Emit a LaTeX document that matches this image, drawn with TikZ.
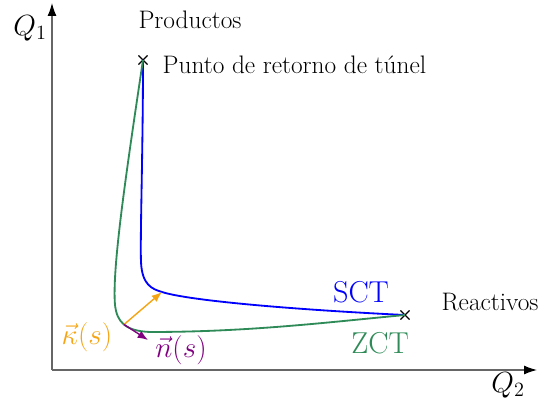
\documentclass[tikz,border=0pt]{standalone}
\usepackage{amsmath,amssymb}
\usepackage{xcolor}
\usepackage{tikz}
\usetikzlibrary{positioning,arrows.meta,shapes.misc}
\definecolor{sctblue}{RGB}{0,0,255}
\definecolor{zctgreen}{RGB}{46,139,87}
\definecolor{kaporange}{RGB}{245,165,20}
\definecolor{normpurple}{RGB}{128,0,128}

\begin{document}
\begin{tikzpicture}[x=0.025cm,y=-0.025cm,
    lbl/.style={font=\fontsize{18}{21}\selectfont,inner sep=1pt},
    biglbl/.style={font=\fontsize{21.5}{25}\selectfont,inner sep=1pt},
    turn/.style={cross out,draw=black,thick,minimum size=0.2cm,inner sep=0pt}]
  \useasboundingbox (0,0) rectangle (544,405);
  % axes
  \coordinate (O) at (52,370);
  \coordinate (ytop) at (52,3);
  \coordinate (xend) at (537,370);
  \draw[black!60,thick,-{Latex[black,length=3.2mm,width=2.2mm]}] (O) -- (ytop);
  \draw[black!60,thick,-{Latex[black,length=3.2mm,width=2.2mm]}] (O) -- (xend);
  \node[biglbl] (q1) at (30,28) {$Q_1$};
  \node[biglbl] (q2) at (508,385) {$Q_2$};
  % end points of the paths
  \node[turn] (tp) at (143,60) {};
  \node[turn] (re) at (405,315) {};
  \coordinate (gk) at (124,324.5);
  \coordinate (bk) at (162,292);
  \coordinate (nk) at (148,340);
  % SCT and ZCT
  \draw[sctblue,line width=1.3pt] (tp.center) .. controls (143,150) and (140,240) .. (141,262)
    .. controls (142,285) and (152,289) .. (bk)
    .. controls (190,301) and (300,310) .. (re.center);
  \draw[zctgreen,line width=1.3pt] (tp.center) .. controls (125,180) and (112,270) .. (115,305)
    .. controls (117,322) and (125,331) .. (150,332)
    .. controls (250,332) and (330,322) .. (re.center);
  \draw[kaporange,line width=1pt,-{Latex[length=2.6mm,width=2mm]}] (gk) -- (bk);
  \draw[normpurple,line width=1pt,-{Latex[length=2.6mm,width=2mm]}] (gk) -- (nk);
  % labels
  \node[lbl] (prod) at (190,20) {Productos};
  \node[lbl,anchor=west] (ptr) at (161,65) {Punto de retorno de túnel};
  \node[lbl] (reac) at (490,302) {Reactivos};
  \node[biglbl,text=sctblue] (sct) at (361,292) {SCT};
  \node[biglbl,text=zctgreen] (zct) at (380,343) {ZCT};
  \node[biglbl,text=kaporange] (kap) at (87,337) {$\vec{\kappa}(s)$};
  \node[biglbl,text=normpurple] (nor) at (181,350) {$\vec{n}(s)$};
\end{tikzpicture}
\end{document}
